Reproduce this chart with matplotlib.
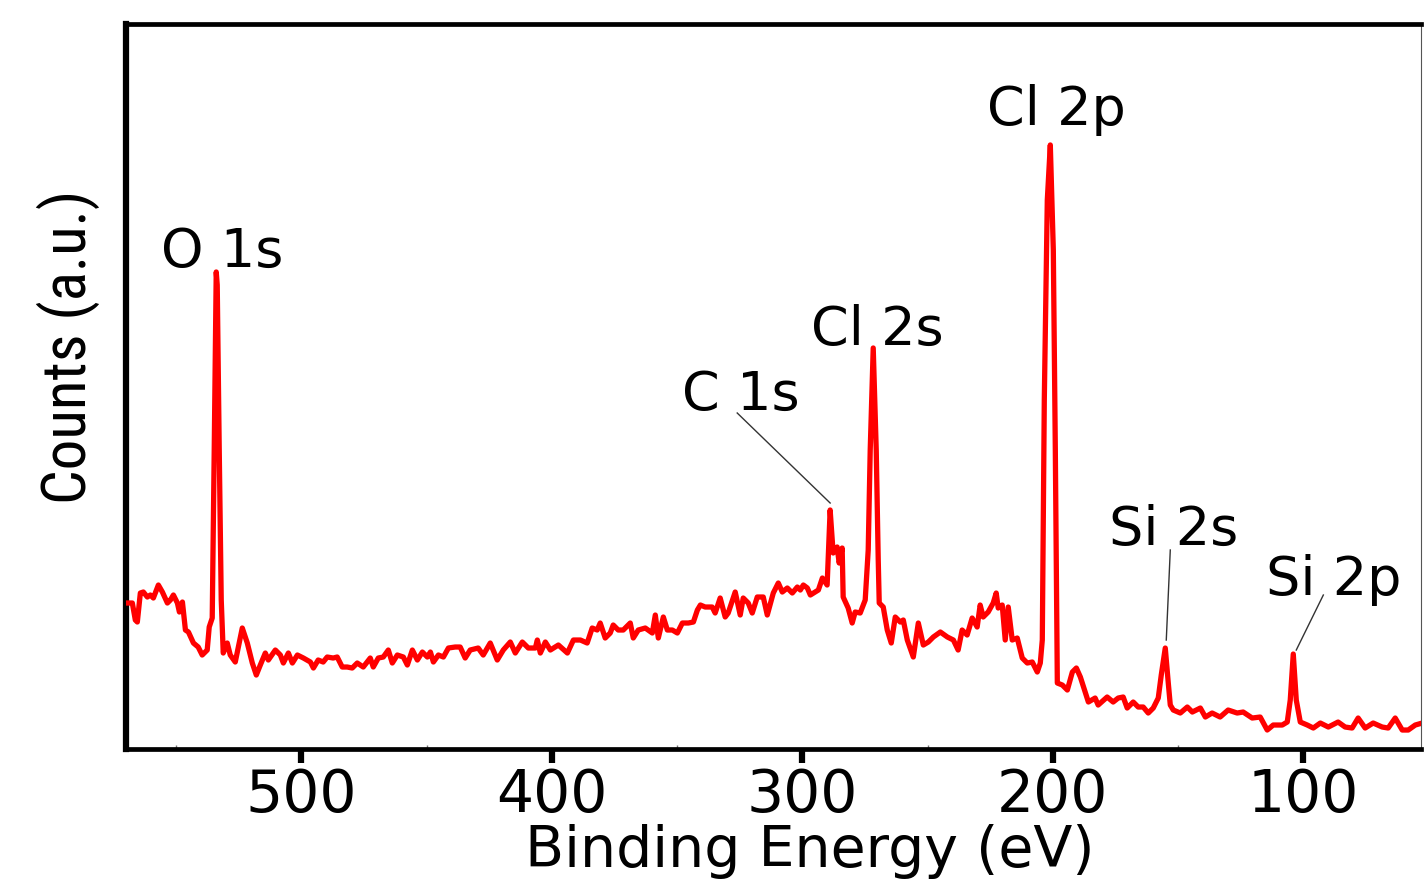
import numpy as np
import matplotlib
matplotlib.use("Agg")
import matplotlib.pyplot as plt
from matplotlib.ticker import MultipleLocator

# survey spectrum (binding energy in eV, counts in a.u.)
energy = [569.5, 567.5, 566.3, 565.5, 564.3, 563.1, 561.5, 560.3, 559.1, 557.1,
          555.5, 553.5, 552.3, 551.1, 549.5, 548.7, 547.5, 546.3, 545.1, 543.1,
          541.2, 539.6, 537.6, 536.8, 535.6, 534.8, 534.0, 533.6, 532.8, 532.0,
          531.2, 529.6, 528.4, 526.4, 523.6, 521.6, 519.6, 518.0, 516.4, 514.4,
          513.2, 510.4, 508.4, 507.2, 505.2, 503.6, 501.6, 499.2, 496.4, 495.2,
          493.3, 491.3, 489.7, 487.3, 485.7, 483.7, 481.7, 479.7, 477.7, 475.3,
          472.5, 471.3, 469.3, 467.3, 465.3, 463.7, 461.7, 459.3, 457.7, 455.7,
          453.7, 451.7, 449.7, 448.5, 447.3, 445.3, 443.3, 441.3, 438.6, 436.6,
          434.6, 432.6, 429.4, 427.4, 424.6, 421.8, 419.4, 416.6, 414.6, 411.8,
          409.4, 406.6, 405.8, 404.6, 402.6, 400.6, 397.4, 393.8, 391.4, 388.6,
          385.9, 383.9, 381.9, 380.7, 378.7, 376.7, 375.5, 373.5, 371.5, 368.7,
          367.5, 365.5, 362.7, 359.9, 358.7, 357.5, 355.5, 353.9, 351.9, 349.9,
          347.9, 345.5, 343.5, 341.9, 340.7, 338.8, 336.0, 334.8, 332.8, 330.8,
          329.6, 326.8, 324.8, 323.6, 321.6, 320.0, 318.0, 315.6, 314.0, 311.6,
          309.6, 308.0, 306.0, 304.0, 302.0, 300.8, 299.6, 298.0, 296.8, 293.6,
          292.0, 290.1, 288.9, 287.7, 286.1, 285.3, 284.1, 283.7, 281.7, 280.1,
          278.9, 276.9, 274.9, 273.7, 272.9, 271.7, 270.5, 269.7, 269.3, 267.7,
          266.1, 264.5, 262.9, 260.9, 259.7, 258.1, 255.7, 253.7, 251.7, 249.7,
          247.7, 244.9, 242.1, 239.7, 237.8, 236.2, 234.2, 232.2, 230.2, 229.0,
          227.8, 225.8, 223.8, 222.6, 221.8, 220.2, 219.0, 217.8, 216.2, 214.2,
          212.2, 210.2, 208.2, 206.2, 205.0, 204.2, 203.4, 202.2, 201.0, 199.8,
          199.0, 198.2, 196.2, 194.2, 192.2, 190.6, 189.0, 187.1, 185.8, 183.1,
          181.9, 178.3, 175.9, 173.9, 171.9, 170.3, 167.9, 165.9, 163.9, 161.9,
          159.9, 157.9, 156.7, 155.1, 153.9, 153.1, 151.9, 149.1, 146.3, 144.3,
          141.1, 139.1, 136.4, 133.2, 130.0, 126.4, 124.0, 120.4, 117.2, 114.4,
          112.0, 108.4, 106.4, 105.2, 104.0, 102.8, 101.2, 98.4, 96.0, 93.2,
          90.0, 86.1, 83.3, 80.5, 78.1, 75.3, 72.1, 68.5, 66.1, 63.3,
          60.5, 58.1, 55.3, 52.5, 51.3]
counts = [146, 146, 129, 127, 156, 157, 152, 154, 151, 164,
          157, 146, 149, 154, 146, 137, 147, 119, 117, 106,
          102, 94, 99, 122, 131, 299, 477, 464, 299, 149,
          96, 106, 94, 87, 121, 106, 86, 74, 84, 96,
          89, 99, 94, 86, 96, 86, 94, 91, 87, 81,
          89, 87, 92, 91, 92, 82, 82, 81, 86, 82,
          91, 82, 91, 92, 99, 86, 94, 92, 84, 99,
          89, 97, 92, 97, 87, 94, 92, 101, 102, 102,
          91, 99, 101, 94, 106, 89, 99, 107, 96, 107,
          101, 101, 109, 96, 107, 99, 104, 96, 109, 109,
          106, 121, 119, 126, 111, 116, 124, 119, 119, 126,
          111, 119, 121, 116, 134, 111, 132, 119, 119, 116,
          126, 126, 127, 139, 144, 142, 142, 136, 151, 132,
          136, 157, 134, 151, 146, 136, 152, 152, 134, 156,
          166, 157, 161, 156, 162, 159, 164, 161, 154, 159,
          171, 164, 239, 196, 202, 186, 201, 152, 141, 126,
          137, 136, 149, 199, 299, 401, 299, 189, 146, 142,
          119, 106, 132, 127, 129, 109, 92, 126, 104, 107,
          112, 117, 112, 109, 99, 119, 114, 131, 122, 144,
          132, 137, 146, 156, 141, 144, 109, 142, 109, 111,
          91, 86, 87, 77, 86, 109, 349, 549, 604, 499,
          299, 66, 64, 59, 77, 81, 72, 57, 47, 51,
          44, 52, 47, 51, 52, 41, 47, 42, 42, 36,
          41, 51, 74, 101, 66, 44, 39, 36, 42, 37,
          41, 32, 36, 32, 39, 36, 37, 31, 32, 19,
          24, 24, 27, 49, 95, 49, 27, 24, 21, 26,
          22, 27, 22, 21, 31, 21, 26, 22, 21, 31,
          19, 19, 24, 26, 21]

# peak labels: text, baseline position (E, counts), leader line ends or None
labels = ["O 1s", "C 1s", "Cl 2s", "Cl 2p", "Si 2s", "Si 2p"]
label_pos = [(531.6, 482), (324.4, 339), (270.1, 404), (198.6, 624), (151.9, 204), (88.0, 154)]
leader_from = [None, (326.0, 336), None, None, (153.1, 199), (92.0, 154)]
leader_to = [None, (288.9, 246), None, None, (154.7, 109), (102.8, 99)]

fig = plt.figure(figsize=(14.26, 8.81), dpi=100)
ax = fig.add_axes([0.0884, 0.1498, 0.9081, 0.8230])

ax.plot(energy, counts, color="red", lw=3.8, solid_joinstyle="round", zorder=3)

for txt, pos, p0, p1 in zip(labels, label_pos, leader_from, leader_to):
    ax.text(pos[0], pos[1], txt, ha="center", va="baseline", fontsize=39,
            family="DejaVu Sans")
    if p0 is not None:
        ax.plot([p0[0], p1[0]], [p0[1], p1[1]], color="#333333", lw=1.0, zorder=2)

ax.set_xlim(570, 53)
ax.set_ylim(0, 725)

ax.xaxis.set_major_locator(MultipleLocator(100))
ax.xaxis.set_minor_locator(MultipleLocator(50))
ax.tick_params(axis="x", which="major", direction="out", length=10, width=4.5,
               labelsize=42, pad=3)
ax.tick_params(axis="x", which="minor", direction="in", length=3, width=1,
               color="#777777")
ax.set_yticks([])
for t in ax.get_xticklabels():
    t.set_family("DejaVu Sans")

ax.spines["left"].set_linewidth(4.5)
ax.spines["bottom"].set_linewidth(3.4)
ax.spines["top"].set_linewidth(3.4)
ax.spines["right"].set_linewidth(0.8)
ax.spines["right"].set_color("#555555")

ax.set_xlabel("Binding Energy (eV)", fontsize=41, family="DejaVu Sans")
ax.xaxis.set_label_coords(0.528, -0.104)
ax.set_ylabel("Counts (a.u.)", fontsize=44,
              family=["Roboto Condensed", "Liberation Sans Narrow", "Roboto"])
ax.yaxis.set_label_coords(-0.02, 0.554)

fig.savefig("out.png", dpi=100, facecolor="white")
